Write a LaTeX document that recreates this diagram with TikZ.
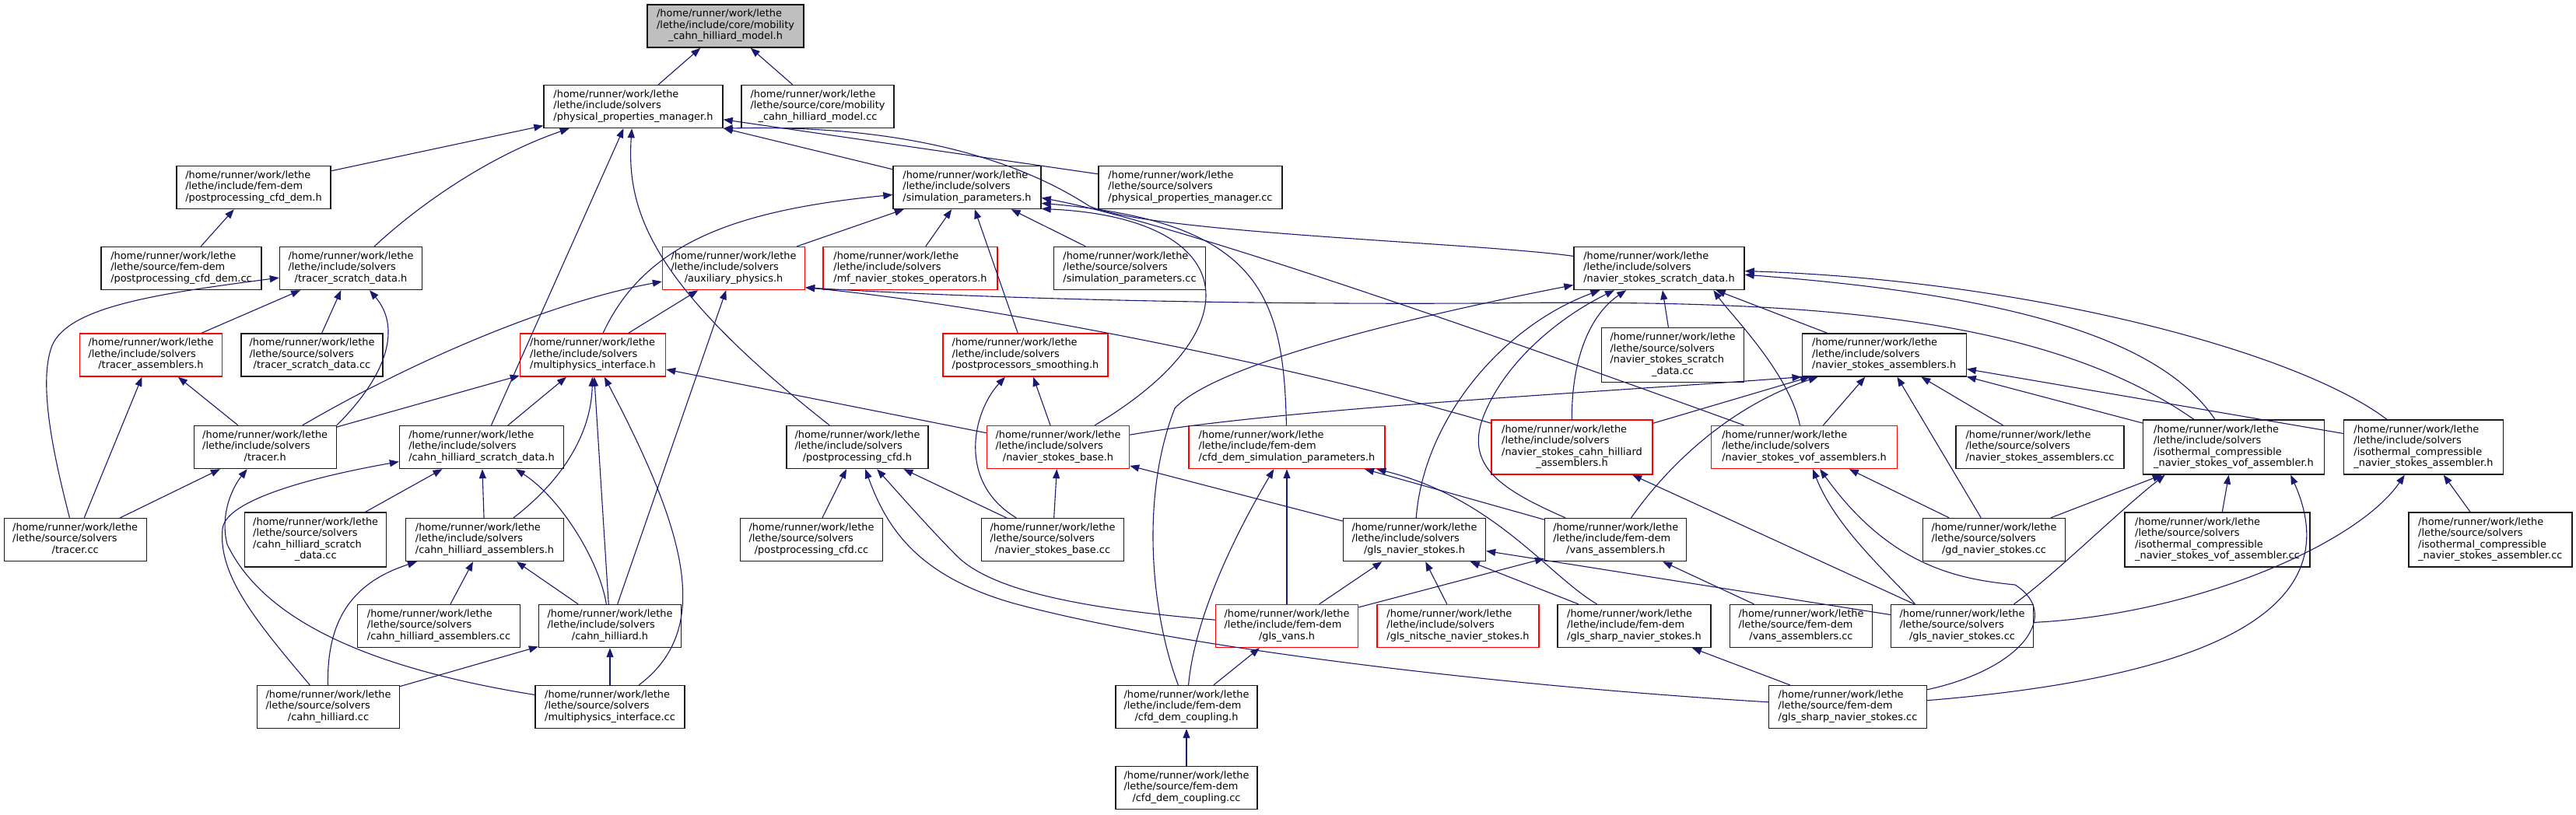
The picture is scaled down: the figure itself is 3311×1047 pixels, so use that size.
\documentclass[tikz,border=0pt]{standalone}
\usepackage{fontspec}
\setmainfont{DejaVu Sans}
\usetikzlibrary{arrows.meta}
\definecolor{azulenlace}{HTML}{191970}
\definecolor{bordegris}{HTML}{1A1A1A}
\definecolor{rellenogris}{HTML}{BFBFBF}
% rutas de archivo: lineas a la izquierda, la ultima centrada
\newcommand{\ruta}[2]{\begin{tabular}{@{}l@{}}/home/runner/work/lethe\\#1\\\multicolumn{1}{@{}c@{}}{#2}\end{tabular}}
\newcommand{\rutalarga}[3]{\begin{tabular}{@{}l@{}}/home/runner/work/lethe\\#1\\#2\\\multicolumn{1}{@{}c@{}}{#3}\end{tabular}}
\begin{document}
\begin{tikzpicture}[x=1pt, y=-1pt,
    archivo/.style={draw=bordegris, fill=white, line width=1.4pt, inner sep=0pt,
      minimum height=55pt, font=\fontsize{12.9}{14.5}\selectfont},
    alto/.style={minimum height=70pt},
    truncado/.style={archivo, draw=red},
    raiz/.style={archivo, draw=black, fill=rellenogris},
    dep/.style={azulenlace, line width=1.1pt, -{Triangle[length=12pt,width=9pt]}}]
    % Marco de la imagen
    \path[use as bounding box, fill=white] (0,0) rectangle (3311,1047);
    % Fila 1: archivo raiz
    \node[raiz, minimum width=201pt] (mchm) at (932.5,33.5) {\ruta{/lethe/include/core/mobility}{\_cahn\_hilliard\_model.h}};
    % Fila 2
    \node[archivo, minimum width=230pt] (ppm) at (814,137) {\ruta{/lethe/include/solvers}{/physical\_properties\_manager.h}};
    \node[archivo, minimum width=196pt] (mchmcc) at (1051,137) {\ruta{/lethe/source/core/mobility}{\_cahn\_hilliard\_model.cc}};
    % Fila 3
    \node[archivo, minimum width=198pt] (ppdh) at (326,241) {\ruta{/lethe/include/fem-dem}{/postprocessing\_cfd\_dem.h}};
    \node[archivo, minimum width=190pt] (simp) at (1243,241) {\ruta{/lethe/include/solvers}{/simulation\_parameters.h}};
    \node[archivo, minimum width=236pt] (ppmcc) at (1530,241) {\ruta{/lethe/source/solvers}{/physical\_properties\_manager.cc}};
    % Fila 4
    \node[archivo, minimum width=206pt] (ppdcc) at (233,345) {\ruta{/lethe/source/fem-dem}{/postprocessing\_cfd\_dem.cc}};
    \node[archivo, minimum width=183pt] (tsdh) at (451,345) {\ruta{/lethe/include/solvers}{/tracer\_scratch\_data.h}};
    \node[truncado, minimum width=183pt] (auxh) at (943,345) {\ruta{/lethe/include/solvers}{/auxiliary\_physics.h}};
    \node[truncado, minimum width=224pt] (mfnso) at (1170,345) {\ruta{/lethe/include/solvers}{/mf\_navier\_stokes\_operators.h}};
    \node[archivo, minimum width=195pt] (simpcc) at (1452,345) {\ruta{/lethe/source/solvers}{/simulation\_parameters.cc}};
    \node[archivo, minimum width=219pt] (nssdh) at (2132.5,345) {\ruta{/lethe/include/solvers}{/navier\_stokes\_scratch\_data.h}};
    % Fila 5
    \node[truncado, minimum width=183pt] (trah) at (194,456.5) {\ruta{/lethe/include/solvers}{/tracer\_assemblers.h}};
    \node[archivo, minimum width=182pt] (tsdcc) at (401,456.5) {\ruta{/lethe/source/solvers}{/tracer\_scratch\_data.cc}};
    \node[truncado, minimum width=187pt] (mpih) at (762,456.5) {\ruta{/lethe/include/solvers}{/multiphysics\_interface.h}};
    \node[truncado, minimum width=212pt] (pps) at (1318,456.5) {\ruta{/lethe/include/solvers}{/postprocessors\_smoothing.h}};
    \node[archivo, alto, minimum width=183pt] (nssdcc) at (2150,456.5) {\rutalarga{/lethe/source/solvers}{/navier\_stokes\_scratch}{\_data.cc}};
    \node[archivo, minimum width=211pt] (nsah) at (2421.7,456.5) {\ruta{/lethe/include/solvers}{/navier\_stokes\_assemblers.h}};
    % Fila 6
    \node[archivo, minimum width=183pt] (tracerh) at (340.7,575) {\ruta{/lethe/include/solvers}{/tracer.h}};
    \node[archivo, minimum width=211pt] (chsdh) at (619,575) {\ruta{/lethe/include/solvers}{/cahn\_hilliard\_scratch\_data.h}};
    \node[archivo, minimum width=182pt] (ppcfdh) at (1102,575) {\ruta{/lethe/include/solvers}{/postprocessing\_cfd.h}};
    \node[truncado, minimum width=183pt] (nsbh) at (1360,575) {\ruta{/lethe/include/solvers}{/navier\_stokes\_base.h}};
    \node[truncado, minimum width=252pt] (cfdsph) at (1654,575) {\ruta{/lethe/include/fem-dem}{/cfd\_dem\_simulation\_parameters.h}};
    \node[truncado, alto, minimum width=207pt] (nschah) at (2020.5,575) {\rutalarga{/lethe/include/solvers}{/navier\_stokes\_cahn\_hilliard}{\_assemblers.h}};
    \node[truncado, minimum width=239pt] (nsvah) at (2319,575) {\ruta{/lethe/include/solvers}{/navier\_stokes\_vof\_assemblers.h}};
    \node[archivo, minimum width=216pt] (nsacc) at (2622,575) {\ruta{/lethe/source/solvers}{/navier\_stokes\_assemblers.cc}};
    \node[archivo, alto, minimum width=233pt] (icnsvah) at (2871,575) {\rutalarga{/lethe/include/solvers}{/isothermal\_compressible}{\_navier\_stokes\_vof\_assembler.h}};
    \node[archivo, alto, minimum width=205pt] (icnsah) at (3115,575) {\rutalarga{/lethe/include/solvers}{/isothermal\_compressible}{\_navier\_stokes\_assembler.h}};
    % Fila 7
    \node[archivo, minimum width=183pt] (tracercc) at (96.7,694) {\ruta{/lethe/source/solvers}{/tracer.cc}};
    \node[archivo, alto, minimum width=182pt] (chsdcc) at (405.7,694) {\rutalarga{/lethe/source/solvers}{/cahn\_hilliard\_scratch}{\_data.cc}};
    \node[archivo, minimum width=203pt] (chah) at (623,694) {\ruta{/lethe/include/solvers}{/cahn\_hilliard\_assemblers.h}};
    \node[archivo, minimum width=183pt] (ppcfdcc) at (1043,694) {\ruta{/lethe/source/solvers}{/postprocessing\_cfd.cc}};
    \node[archivo, minimum width=183pt] (nsbcc) at (1353,694) {\ruta{/lethe/source/solvers}{/navier\_stokes\_base.cc}};
    \node[archivo, minimum width=183pt] (glsnsh) at (1818,694) {\ruta{/lethe/include/solvers}{/gls\_navier\_stokes.h}};
    \node[archivo, minimum width=182pt] (vansah) at (2076.7,694) {\ruta{/lethe/include/fem-dem}{/vans\_assemblers.h}};
    \node[archivo, minimum width=183pt] (gdnscc) at (2563,694) {\ruta{/lethe/source/solvers}{/gd\_navier\_stokes.cc}};
    \node[archivo, alto, minimum width=238pt] (icnsvacc) at (2850,694) {\rutalarga{/lethe/source/solvers}{/isothermal\_compressible}{\_navier\_stokes\_vof\_assembler.cc}};
    \node[archivo, alto, minimum width=210pt] (icnsacc) at (3200.8,694) {\rutalarga{/lethe/source/solvers}{/isothermal\_compressible}{\_navier\_stokes\_assembler.cc}};
    % Fila 8
    \node[archivo, minimum width=209pt] (chacc) at (564,805) {\ruta{/lethe/source/solvers}{/cahn\_hilliard\_assemblers.cc}};
    \node[archivo, minimum width=183pt] (chh) at (784,805) {\ruta{/lethe/include/solvers}{/cahn\_hilliard.h}};
    \node[truncado, minimum width=183pt] (glsvans) at (1654,805) {\ruta{/lethe/include/fem-dem}{/gls\_vans.h}};
    \node[truncado, minimum width=208pt] (glsnitsche) at (1874,805) {\ruta{/lethe/include/solvers}{/gls\_nitsche\_navier\_stokes.h}};
    \node[archivo, minimum width=197pt] (glssharph) at (2100.5,805) {\ruta{/lethe/include/fem-dem}{/gls\_sharp\_navier\_stokes.h}};
    \node[archivo, minimum width=183pt] (vansacc) at (2315,805) {\ruta{/lethe/source/fem-dem}{/vans\_assemblers.cc}};
    \node[archivo, minimum width=183pt] (glsnscc) at (2522,805) {\ruta{/lethe/source/solvers}{/gls\_navier\_stokes.cc}};
    % Fila 9
    \node[archivo, minimum width=183pt] (chcc) at (422,909) {\ruta{/lethe/source/solvers}{/cahn\_hilliard.cc}};
    \node[archivo, minimum width=192pt] (mpicc) at (784,909) {\ruta{/lethe/source/solvers}{/multiphysics\_interface.cc}};
    \node[archivo, minimum width=182pt] (cfdch) at (1525,909) {\ruta{/lethe/include/fem-dem}{/cfd\_dem\_coupling.h}};
    \node[archivo, minimum width=203pt] (glssharpcc) at (2375,909) {\ruta{/lethe/source/fem-dem}{/gls\_sharp\_navier\_stokes.cc}};
    % Fila 10
    \node[archivo, minimum width=182pt] (cfdccc) at (1525,1013) {\ruta{/lethe/source/fem-dem}{/cfd\_dem\_coupling.cc}};

    % Inclusiones: la flecha apunta al archivo incluido
    \draw[dep] (ppm) -- (mchm);
    \draw[dep] (mchmcc) -- (mchm);
    % physical_properties_manager.h
    \draw[dep] (ppdh) -- (ppm);
    \draw[dep] (tsdh) .. controls (540,262) and (630,200) .. (ppm);
    \draw[dep] (chsdh) -- (ppm);
    \draw[dep] (ppcfdh) .. controls (835,365) and (805,270) .. (ppm);
    \draw[dep] (simp) -- (ppm);
    \draw[dep] (ppmcc) -- (ppm);
    \draw[dep] (nssdh) .. controls (1900,312) and (1480,300) .. (1400,265) .. controls (1300,200) and (1150,160) .. (ppm.south east);
    \draw[dep] (ppdcc) -- (ppdh);
    % simulation_parameters.h
    \draw[dep] (auxh) -- (simp);
    \draw[dep] (mfnso) -- (simp);
    \draw[dep] (simpcc) -- (simp);
    \draw[dep] (pps) -- (simp);
    \draw[dep] (mpih) .. controls (830,310) and (950,270) .. (simp);
    \draw[dep] (nsbh) .. controls (1620,420) and (1590,280) .. (simp.-16);
    \draw[dep] (cfdsph) .. controls (1650,380) and (1620,285) .. (simp.-12);
    \draw[dep] (nsvah) .. controls (1700,350) and (1450,275) .. (simp.-8);
    % tracer
    \draw[dep] (tracercc) .. controls (70,590) and (50,500) .. (65,450) .. controls (80,395) and (200,378) .. (tsdh);
    \draw[dep] (trah) -- (tsdh);
    \draw[dep] (tsdcc) -- (tsdh);
    \draw[dep] (tracerh.north east) .. controls (500,480) and (515,420) .. (tsdh);
    \draw[dep] (tracercc) -- (trah);
    \draw[dep] (tracerh) -- (trah);
    \draw[dep] (tracercc) -- (tracerh);
    \draw[dep] (mpicc) .. controls (480,860) and (340,800) .. (292,700) .. controls (282,660) and (300,625) .. (tracerh);
    % auxiliary_physics.h
    \draw[dep] (tracerh) .. controls (520,470) and (700,390) .. (auxh);
    \draw[dep] (mpih) -- (auxh);
    \draw[dep] (chh) -- (auxh);
    \draw[dep] (nschah) .. controls (1700,480) and (1300,395) .. (auxh.-15);
    \draw[dep] (icnsvah) .. controls (2620,400) and (2300,385) .. (1900,390) .. controls (1500,392) and (1200,380) .. (auxh.-15);
    % multiphysics_interface.h
    \draw[dep] (tracerh) -- (mpih);
    \draw[dep] (chsdh) -- (mpih);
    \draw[dep] (chah) .. controls (720,620) and (760,560) .. (mpih);
    \draw[dep] (chh) -- (mpih);
    \draw[dep] (mpicc) .. controls (915,810) and (885,690) .. (mpih);
    \draw[dep] (nsbh) -- (mpih);
    % cahn_hilliard
    \draw[dep] (chcc) .. controls (330,800) and (280,740) .. (286,680) .. controls (290,640) and (420,610) .. (chsdh);
    \draw[dep] (chsdcc) -- (chsdh);
    \draw[dep] (chah) -- (chsdh);
    \draw[dep] (chh) .. controls (770,720) and (720,640) .. (chsdh);
    \draw[dep] (chcc) .. controls (420,800) and (450,750) .. (chah);
    \draw[dep] (chacc) -- (chah);
    \draw[dep] (chh) -- (chah);
    \draw[dep] (chcc) -- (chh);
    \draw[dep] (mpicc) -- (chh);
    % postprocessing_cfd.h y postprocessors_smoothing.h
    \draw[dep] (ppcfdcc) -- (ppcfdh);
    \draw[dep] (nsbcc) -- (ppcfdh);
    \draw[dep] (glsvans) .. controls (1420,785) and (1280,765) .. (1230,715) .. controls (1200,685) and (1160,640) .. (ppcfdh);
    \draw[dep] (glssharpcc) .. controls (1900,880) and (1500,830) .. (1300,775) .. controls (1180,740) and (1140,680) .. (ppcfdh);
    \draw[dep] (nsbcc) .. controls (1230,620) and (1250,530) .. (pps);
    \draw[dep] (nsbh) -- (pps);
    % navier_stokes_base.h
    \draw[dep] (nsbcc) -- (nsbh);
    \draw[dep] (glsnsh) -- (nsbh);
    % navier_stokes_scratch_data.h
    \draw[dep] (nssdcc) -- (nssdh);
    \draw[dep] (nsah) -- (nssdh);
    \draw[dep] (nsvah) .. controls (2300,480) and (2225,405) .. (nssdh.-22);
    \draw[dep] (nschah) .. controls (2020,450) and (2050,400) .. (nssdh);
    \draw[dep] (glsnsh) .. controls (1830,540) and (1930,420) .. (nssdh);
    \draw[dep] (vansah) .. controls (1930,630) and (1885,600) .. (1905,540) .. controls (1930,470) and (2000,410) .. (nssdh);
    \draw[dep] (cfdch) .. controls (1480,790) and (1465,640) .. (1510,525) .. controls (1560,470) and (1800,410) .. (nssdh);
    \draw[dep] (icnsvah) .. controls (2780,440) and (2600,380) .. (nssdh);
    \draw[dep] (icnsah) .. controls (2950,450) and (2600,360) .. (nssdh);
    % navier_stokes_assemblers.h
    \draw[dep] (nsbh) .. controls (1650,525) and (2050,505) .. (nsah.south west);
    \draw[dep] (nschah) -- (nsah);
    \draw[dep] (vansah) .. controls (2150,590) and (2230,520) .. (nsah);
    \draw[dep] (nsvah) -- (nsah);
    \draw[dep] (gdnscc) -- (nsah);
    \draw[dep] (nsacc) -- (nsah);
    \draw[dep] (icnsvah) -- (nsah);
    \draw[dep] (icnsah) -- (nsah);
    % cfd_dem_simulation_parameters.h
    \draw[dep] (cfdch) .. controls (1535,800) and (1580,700) .. (cfdsph);
    \draw[dep] (glsvans) -- (cfdsph);
    \draw[dep] (vansah) -- (cfdsph);
    \draw[dep] (glssharph) .. controls (1990,740) and (1920,640) .. (cfdsph);
    % ensambladores navier_stokes
    \draw[dep] (glsnscc) -- (nschah);
    \draw[dep] (gdnscc) -- (nsvah);
    \draw[dep] (glsnscc.155) .. controls (2430,740) and (2360,680) .. (nsvah);
    \draw[dep] (glssharpcc) .. controls (2600,860) and (2650,790) .. (2590,752) .. controls (2520,745) and (2430,730) .. (nsvah);
    \draw[dep] (icnsvacc) -- (icnsvah);
    \draw[dep] (gdnscc) -- (icnsvah);
    \draw[dep] (glsnscc.23) .. controls (2640,740) and (2720,660) .. (icnsvah.-158);
    \draw[dep] (glssharpcc) .. controls (2850,870) and (3020,780) .. (icnsvah.-26);
    \draw[dep] (icnsacc) -- (icnsah);
    \draw[dep] (glsnscc) .. controls (2820,790) and (3030,700) .. (icnsah);
    % gls
    \draw[dep] (glsvans) -- (glsnsh);
    \draw[dep] (glsnitsche) -- (glsnsh);
    \draw[dep] (glssharph) -- (glsnsh);
    \draw[dep] (glsnscc) -- (glsnsh);
    \draw[dep] (glsvans) -- (vansah);
    \draw[dep] (vansacc) -- (vansah);
    \draw[dep] (glssharpcc) -- (glssharph);
    \draw[dep] (cfdch) -- (glsvans);
    \draw[dep] (cfdccc) -- (cfdch);
\end{tikzpicture}
\end{document}
